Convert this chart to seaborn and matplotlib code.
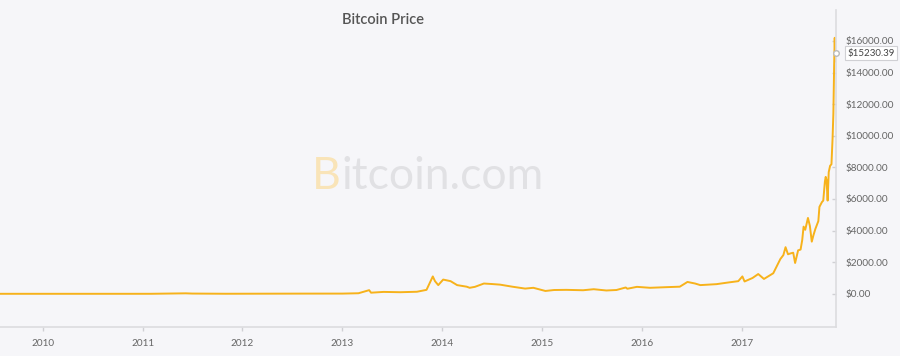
import pandas as pd
import seaborn as sns
import matplotlib.pyplot as plt
import matplotlib.dates as mdates
from matplotlib.ticker import FuncFormatter

dates = [
    "2009-07-28", "2010-07-18", "2010-12-01", "2011-02-01", "2011-06-08", "2011-07-01",
    "2011-11-01", "2012-01-01", "2012-08-15", "2013-01-01", "2013-03-01", "2013-04-09",
    "2013-04-16", "2013-06-01", "2013-08-01", "2013-10-01", "2013-11-05", "2013-11-28",
    "2013-12-06", "2013-12-18", "2014-01-05", "2014-02-01", "2014-02-25", "2014-04-01",
    "2014-04-12", "2014-05-01", "2014-06-03", "2014-07-01", "2014-08-01", "2014-09-15",
    "2014-11-01", "2014-12-01", "2015-01-14", "2015-02-15", "2015-04-01", "2015-06-01",
    "2015-07-10", "2015-08-25", "2015-10-01", "2015-11-04", "2015-11-10", "2015-12-15",
    "2016-02-01", "2016-04-01", "2016-05-20", "2016-06-17", "2016-07-15", "2016-08-03",
    "2016-10-01", "2016-11-15", "2016-12-20", "2017-01-04", "2017-01-12", "2017-02-10",
    "2017-03-03", "2017-03-24", "2017-04-27", "2017-05-10", "2017-05-23", "2017-06-03",
    "2017-06-11", "2017-06-20", "2017-06-28", "2017-07-09", "2017-07-16", "2017-07-27",
    "2017-08-05", "2017-08-11", "2017-08-16", "2017-08-22", "2017-09-01", "2017-09-08",
    "2017-09-15", "2017-09-21", "2017-09-28", "2017-10-09", "2017-10-13", "2017-10-16",
    "2017-10-22", "2017-10-27", "2017-11-02", "2017-11-05", "2017-11-08", "2017-11-12",
    "2017-11-16", "2017-11-21", "2017-11-26", "2017-11-30", "2017-12-03", "2017-12-06",
    "2017-12-08", "2017-12-10", "2017-12-13",
]
prices = [
    0.0, 0.05, 0.3, 1.0, 30, 15,
    3, 5, 12, 13, 35, 230,
    70, 120, 100, 130, 250, 1100,
    800, 550, 900, 800, 550, 450,
    380, 440, 650, 620, 580, 450,
    330, 380, 180, 240, 250, 225,
    290, 210, 240, 400, 320, 440,
    380, 420, 450, 750, 650, 550,
    610, 720, 800, 1100, 780, 1000,
    1250, 940, 1300, 1750, 2200, 2450,
    2950, 2500, 2550, 2600, 1950, 2750,
    2800, 3400, 4250, 4050, 4800, 4300,
    3300, 3700, 4100, 4600, 5500, 5600,
    5800, 5900, 7100, 7400, 7200, 5900,
    7700, 8100, 8200, 9800, 11400, 14600,
    16200, 14700, 15230.39,
]
years = [2010, 2011, 2012, 2013, 2014, 2015, 2016, 2017]
y_ticks = [0, 2000, 4000, 6000, 8000, 10000, 12000, 14000, 16000]

df = pd.DataFrame({"date": pd.to_datetime(dates), "price": prices})

bg = "#f6f6f9"
sns.set_theme(style="white", rc={"axes.facecolor": bg, "figure.facecolor": bg})
plt.rcParams["font.family"] = ["Lato", "DejaVu Sans"]

fig = plt.figure(figsize=(9, 3.56), dpi=100)
ax = fig.add_axes([0, 0.0815, 0.929, 0.89])

sns.lineplot(data=df, x="date", y="price", ax=ax, color="#f7b21b", linewidth=1.4)

ax.set_xlim(df["date"].iloc[0], df["date"].iloc[-1])
ax.set_ylim(-2100, 17950)

ax.set_xticks([mdates.date2num(pd.Timestamp(f"{y}-01-01")) for y in years])
ax.set_xticklabels([str(y) for y in years])
ax.yaxis.tick_right()
ax.set_yticks(y_ticks)
ax.yaxis.set_major_formatter(FuncFormatter(lambda v, p: f"${v:.2f}"))
ax.set_xlabel("")
ax.set_ylabel("")

for s in ["top", "left"]:
    ax.spines[s].set_visible(False)
for s in ["bottom", "right"]:
    ax.spines[s].set_color("#dcdcdf")
    ax.spines[s].set_linewidth(1.2)

ax.tick_params(axis="x", colors="#d0d0d4", labelcolor="#666666", labelsize=7.2,
               length=3, width=1, direction="out", pad=6, bottom=True)
ax.tick_params(axis="y", colors="#d0d0d4", labelcolor="#666666", labelsize=7.2,
               length=3, width=1, direction="in", pad=7, right=True)

# title
fig.text(0.426, 0.944, "Bitcoin Price", ha="center", va="center",
         fontsize=10.5, color="#555555", fontweight="semibold")

# watermark
t1 = fig.text(0.346, 0.503, "B", ha="left", va="center", fontsize=32,
              color="#f9e4b8")
ax.annotate("itcoin.com", xy=(1, 0), xycoords=t1, xytext=(1, 0),
            textcoords="offset points", ha="left", va="bottom",
            fontsize=32, color="#e1e1e4")

# last value marker + label
last_d = df["date"].iloc[-1]
last_p = df["price"].iloc[-1]
ax.plot([last_d], [last_p], marker="o", markersize=4, markerfacecolor="white",
        markeredgecolor="#bbbbbb", clip_on=False, zorder=5)
ax.annotate(f"${last_p:.2f}", xy=(last_d, last_p), xytext=(8, 0),
            textcoords="offset points", ha="left", va="center", fontsize=7,
            color="#444444",
            bbox=dict(boxstyle="square,pad=0.25", facecolor="white",
                      edgecolor="#d0d0d4", linewidth=0.8),
            annotation_clip=False, zorder=6)

fig.savefig("out.png", dpi=100, facecolor=bg)
